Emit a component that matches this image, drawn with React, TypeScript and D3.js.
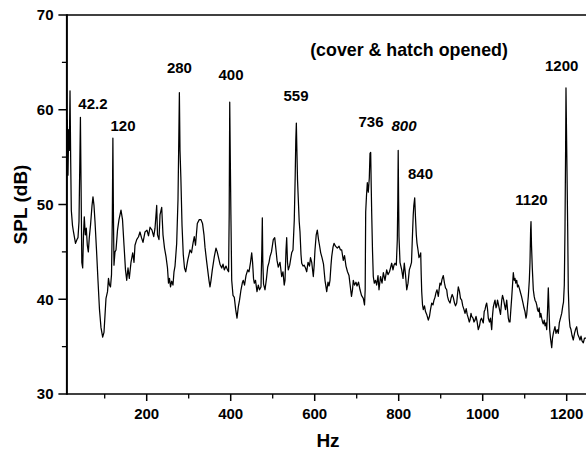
import React from 'react';
import * as d3 from 'd3';

type P = [number, number];

// spectrum: [frequency Hz, SPL dB]
const spectrumA: P[] = [
  [9,50.5],[11,58.9],[12.6,53.1],[14.3,57.9],[15.7,55.7],[17.4,62.0],[19,54.7],[20.5,49.4],[23.3,47.8],[25.7,47.1],[30.5,45.9],[34,46.3],[36.4,46.5],[38.8,48.2],[40.5,53.6],[42.2,59.2],[43.6,52.6],[45.5,43.9],[47.6,43.3],[49.5,46.8],[51.4,48.7],[53.8,46.8],[56.2,47.5],[58.6,45.7],[61,45.0],[63.3,46.5],[66.2,47.8],[69.8,49.9],[72.1,50.8],[74.5,49.9],[76.9,48.2],[80.5,45.2],[84,42.0],[87.6,38.9],[91.2,37.0],[95.2,36.0],[98.3,36.5],[100.7,38.3],[103.1,40.1],[106.7,40.8],[109,42.2],[111.4,41.5],[113.8,41.3],[116.2,42.6],[118.1,48.4],[119.5,57.0],[120.7,49.4],[122.1,43.6],[124.5,45.0],[126.9,45.2],[130.5,47.3],[134,48.4],[138.8,49.4],[142.4,48.4],[146,45.7],[149.5,43.1],[152.4,42.0],[155.5,43.3],[158.6,42.2],[162.6,43.9],[166.7,44.9],[169.8,43.9],[172.1,45.7],[176.2,46.3],[180.5,46.6],[184,47.1],[187.6,46.5],[191.2,46.0],[196,47.1],[200.7,47.3],[204.3,46.7],[207.9,47.6],[212.6,47.3],[216.7,46.6],[219.8,47.5],[223.8,49.9],[225.7,46.8],[229.3,46.3],[231.7,48.9],[235.7,49.7],[238.8,46.8],[242.4,45.4],[246,44.5],[249.5,43.3]
];
const spectrumB: P[] = [
  [251.9,41.7],[254.3,42.2],[256.7,41.3],[259.5,41.9],[262.6,41.5],[265,42.9],[267.4,43.5],[271.4,45.9],[274.5,50.5],[276.4,56.8],[277.8,61.8],[279.3,55.7],[281.3,52.9],[284.1,47.8],[287.1,44.7],[290,43.3],[292.9,42.9],[297.6,44.1],[300.7,44.7],[303.1,45.2],[306.7,44.9],[310.2,45.9],[313.3,46.6],[316.2,45.7],[320.5,48.0],[325.2,48.4],[329.3,48.4],[332.9,48.0],[336.4,46.8],[338.8,45.5],[342.4,44.1],[345.2,43.1],[348.3,42.0],[350.7,41.3],[353.1,42.0],[356.2,43.1],[361,44.5],[365,45.4],[367.9,45.0],[370.5,44.5],[374.5,43.7],[378.6,43.3],[381.7,43.7],[384.8,43.1],[388.8,43.5],[392.4,43.1],[395,42.9],[396.4,48.9],[397.7,60.8],[399.1,54.7],[400.5,48.9],[402.4,42.0],[405.5,40.4],[408.6,40.2],[411.9,38.9],[415,38.0],[418.1,39.2],[421,39.9],[424.5,41.0],[428.1,41.8],[430,42.0],[432.9,41.5],[436.4,42.5],[440.5,43.1],[443.6,42.9],[447.2,43.9],[450,44.9],[452.1,43.9],[454.3,42.2],[456.2,41.7],[459.1,42.0],[462.6,40.8],[465.7,41.5],[468.6,41.0],[472.1,41.3],[474.1,45.2],[475.3,48.6],[476.4,44.1],[478.2,41.6],[481.7,41.0],[485.2,42.2],[488.1,43.4],[491.2,43.9],[493.6,44.5],[497.1,45.0]
];
const spectrumC: P[] = [
  [501.4,46.3],[504.8,46.5],[507.9,45.2],[510.3,44.1],[513.3,43.4],[517.4,43.9],[521.4,42.4],[524.5,42.9],[527.4,41.5],[529.3,42.0],[531.7,45.2],[533.3,46.5],[535.2,43.9],[537.2,43.1],[540.5,43.6],[545.2,44.9],[548.3,45.2],[551.4,48.4],[553.6,53.1],[555,56.8],[556.3,58.6],[557.6,55.7],[559.1,52.6],[561,50.5],[563.1,48.2],[565,47.1],[567.4,44.7],[569.1,43.8],[572.2,43.5],[575,43.6],[578.1,43.3],[581,42.9],[584.1,43.9],[587.6,43.5],[590,44.4],[592.9,43.9],[596.7,42.4],[598.8,43.6],[600.7,45.2],[603.6,46.8],[606.2,47.3],[609.1,46.3],[611.4,45.7],[614.3,44.9],[617.4,44.4],[621,43.7],[624.5,42.0],[628.6,40.8],[631.7,41.8],[634.1,41.4],[636.4,42.0],[638.8,43.6],[640.5,44.5],[643.6,45.5],[646,45.9],[649.5,45.6],[653.8,45.4],[657.9,45.6],[661.4,45.2],[664.3,45.2],[668.1,44.1],[671,44.6],[674.5,43.5],[678.1,42.9],[681.7,42.5],[684.1,41.6],[687.6,40.3],[690,41.0],[691.9,42.0],[694.8,41.5],[698.3,41.8],[700.7,41.4],[704.3,41.8],[707.9,41.0],[711.4,40.4],[715.7,40.1],[718.6,39.4],[720.2,41.0],[721.4,49.2],[723.4,51.0],[725.3,52.3],[727.6,51.3],[730,52.8],[731.7,55.4],[733.3,55.5],[734.5,52.1],[735.7,49.1],[737.6,45.2],[739.5,42.4],[741.9,41.7],[744.8,42.0],[747.6,41.5]
];
const spectrumD: P[] = [
  [750.7,42.5],[753.1,41.0],[756.7,42.4],[760.3,41.7],[763.4,42.8],[767.4,42.0],[771.4,43.1],[774.5,42.6],[778.1,42.9],[780.5,43.3],[783.3,43.8],[786.4,43.1],[788.8,43.6],[791.2,43.8],[794.3,43.6],[796.7,46.3],[797.9,50.5],[798.8,55.7],[799.8,50.5],[800.7,46.6],[803.1,43.9],[807.2,43.1],[810.3,42.2],[813.3,43.8],[816.2,42.6],[819.1,41.0],[822.2,41.7],[825.3,43.1],[828.1,43.5],[830.5,43.9],[832.4,46.3],[834.6,48.9],[836,49.9],[838.1,50.7],[840,48.6],[841.9,46.8],[843.6,45.9],[846,45.2],[848.3,44.4],[850.7,44.6],[852.4,44.9],[853.6,42.6],[854.8,40.8],[856.7,39.4],[858.6,38.9],[861.4,39.3],[863.8,38.7],[866.7,38.4],[870.5,37.8],[873.3,38.2],[875.7,38.9],[878.6,39.6],[881.7,39.4],[884,39.9],[886.4,40.2],[888.8,40.7],[891.2,41.0],[894.3,40.3],[896.4,41.1],[898.3,41.7],[900.7,41.5],[903.1,42.1],[906.2,42.5],[909,41.7],[911.4,41.2],[914.3,41.0],[916.2,40.3],[918.6,39.9],[922.2,39.6],[924.5,40.1],[927.4,40.5],[930,40.2],[932.9,39.6],[935.3,39.3],[938.1,39.6],[940,40.5],[941.9,41.3],[944.8,40.8],[947.1,40.1],[950,39.9],[952.6,39.3],[955.5,38.9],[957.9,38.5],[960.7,39.0],[963.1,38.4],[965.7,38.0],[968.1,37.6],[969.8,37.8],[972.2,38.5],[973.8,38.2],[976.9,38.0],[979.3,37.6],[981.7,37.8],[984.1,38.2],[986.5,37.7],[989.5,36.8],[992.4,37.2],[994.8,37.8],[997.2,38.0]
];
const spectrumE: P[] = [
  [1001.4,37.5],[1003.6,38.7],[1005.5,38.9],[1007.9,39.4],[1009.5,39.6],[1011.4,39.0],[1013.4,38.0],[1016.2,37.6],[1018.6,38.0],[1021.4,36.8],[1023.4,38.3],[1025.3,39.2],[1027.4,39.6],[1029.3,39.9],[1031.7,39.1],[1033.4,39.3],[1035.3,39.9],[1037.2,39.5],[1040,38.9],[1042.4,38.4],[1045.3,39.9],[1047.2,40.4],[1049.6,40.0],[1052,39.4],[1054.3,38.9],[1057.2,39.9],[1059.1,38.9],[1061,38.0],[1063.1,37.6],[1065,37.6],[1067,38.9],[1069.1,40.2],[1071,41.5],[1072.9,42.8],[1075,42.0],[1076.9,42.2],[1078.8,41.7],[1081,42.0],[1082.9,41.3],[1084.8,41.5],[1086.9,41.2],[1088.8,40.9],[1092.4,40.3],[1096,39.6],[1098.3,39.1],[1100.7,38.7],[1103.1,38.0],[1104.8,38.4],[1106.7,39.4],[1108.6,40.3],[1111,42.0],[1112.6,43.9],[1114.1,47.3],[1115,48.2],[1116.2,45.7],[1118.1,43.3],[1120.5,41.0],[1122.6,40.3],[1124.5,39.9],[1126.9,39.7],[1128.6,39.4],[1130.5,38.9],[1132.4,38.7],[1134.5,39.1],[1136.4,38.1],[1138.4,38.5],[1140.5,38.0],[1142.4,37.6],[1144.3,37.4],[1146.5,37.8],[1148.4,37.2],[1150.7,37.5],[1152.4,36.8],[1154.3,38.7],[1156.2,41.2],[1157.9,38.9],[1159.5,36.8],[1161.4,35.9],[1164.3,34.9],[1166.2,35.9],[1168.6,36.5],[1172.1,37.1],[1174.5,36.4],[1177.4,36.8],[1180,36.4],[1182.4,37.5],[1185.2,38.0],[1188.1,38.5],[1190.7,39.3],[1192.4,39.7],[1194.3,41.5],[1195.9,47.3],[1197.4,55.7],[1198.3,62.3],[1199.5,57.9],[1200.7,53.6],[1202.4,47.3],[1203.8,41.0],[1206,38.0],[1207.9,37.1],[1210.2,36.8],[1212.6,36.2],[1215.7,35.7],[1218.6,36.4],[1221,36.8],[1223.8,37.1],[1226.4,36.3],[1229.3,36.0],[1231.7,35.7],[1234.1,36.1],[1236.4,35.6],[1239.5,35.4],[1242.4,35.9],[1246,35.9]
];

// peak annotations: text, anchor frequency (Hz), anchor level (dB)
const peakTexts = ['42.2', '120', '280', '400', '559', '736', '800', '840', '1120', '1200'];
const peakHz = [72, 143.6, 278, 400.7, 555.5, 734, 812.6, 851.9, 1116, 1188];
const peakDb = [60.1, 57.8, 63.9, 63.1, 60.9, 58.2, 57.8, 52.7, 50.0, 64.1];
const peakItalic = [false, false, false, false, false, false, true, false, false, false];

const noteText = '(cover & hatch opened)';
const noteHz = 589.3;
const noteDb = 65.7;

const xTicks = [200, 400, 600, 800, 1000, 1200];
const xMinor = [100, 300, 500, 700, 900, 1100];
const yTicks = [30, 40, 50, 60, 70];
const yMinor = [35, 45, 55, 65];

const xLabel = 'Hz';
const yLabel = 'SPL (dB)';

const FONT = "'Liberation Sans', Arial, Helvetica, sans-serif";

export default function App() {
  const W = 586, H = 452;
  const x = d3.scaleLinear().domain([10, 1250]).range([66.9, 587.7]);
  const y = d3.scaleLinear().domain([30, 70]).range([394, 15]);
  const data: P[] = [...spectrumA, ...spectrumB, ...spectrumC, ...spectrumD, ...spectrumE];
  const line = d3.line<P>().x(d => x(d[0])).y(d => y(d[1]));
  const x0 = x(10), x1 = x(1250), yb = y(30), yt = y(70);

  return (
    <svg width={W} height={H} style={{ position: 'absolute', left: 0, top: 0, background: '#fff' }}
      fontFamily={FONT}>
      <rect x={0} y={0} width={W} height={H} fill="#fff" />
      <defs>
        <clipPath id="plot"><rect x={x0} y={yt} width={x1 - x0} height={yb - yt} /></clipPath>
      </defs>
      <path d={line(data) || ''} fill="none" stroke="#000" strokeWidth={1.25} strokeLinejoin="round" clipPath="url(#plot)" />

      {/* frame */}
      <line x1={x0} x2={x1} y1={yt} y2={yt} stroke="#000" strokeWidth={1.6} />
      <line x1={x0} x2={x1} y1={yb} y2={yb} stroke="#000" strokeWidth={1.6} />
      <line x1={x0} x2={x0} y1={yt - 0.8} y2={yb + 0.8} stroke="#000" strokeWidth={2} />

      {/* y ticks */}
      {yTicks.map(t => (
        <g key={'y' + t}>
          <line x1={x0 - 8.5} x2={x0} y1={y(t)} y2={y(t)} stroke="#000" strokeWidth={1.5} />
          <text x={53.5} y={y(t)} dy="0.36em" textAnchor="end" fontSize={15} fontWeight="bold">{t}</text>
        </g>
      ))}
      {yMinor.map(t => (
        <line key={'ym' + t} x1={x0 - 5} x2={x0} y1={y(t)} y2={y(t)} stroke="#000" strokeWidth={1.3} />
      ))}

      {/* x ticks */}
      {xTicks.map(t => (
        <g key={'x' + t}>
          <line x1={x(t)} x2={x(t)} y1={yb} y2={yb + 7} stroke="#000" strokeWidth={1.5} />
          <text x={x(t)} y={419} textAnchor="middle" fontSize={15} fontWeight="bold">{t}</text>
        </g>
      ))}
      {xMinor.map(t => (
        <line key={'xm' + t} x1={x(t)} x2={x(t)} y1={yb} y2={yb + 4.5} stroke="#000" strokeWidth={1.3} />
      ))}

      {/* axis titles */}
      <text x={328} y={447} textAnchor="middle" fontSize={19} fontWeight="bold">{xLabel}</text>
      <text transform={`translate(27, ${(yt + yb) / 2}) rotate(-90)`} textAnchor="middle" fontSize={19} fontWeight="bold">{yLabel}</text>

      {/* annotations */}
      {peakTexts.map((t, i) => (
        <text key={'p' + i} x={x(peakHz[i])} y={y(peakDb[i])} textAnchor="middle" fontSize={15}
          fontWeight="bold" fontStyle={peakItalic[i] ? 'italic' : 'normal'}>{t}</text>
      ))}
      <text x={x(noteHz)} y={y(noteDb)} fontSize={17.8} fontWeight="bold">{noteText}</text>
    </svg>
  );
}
